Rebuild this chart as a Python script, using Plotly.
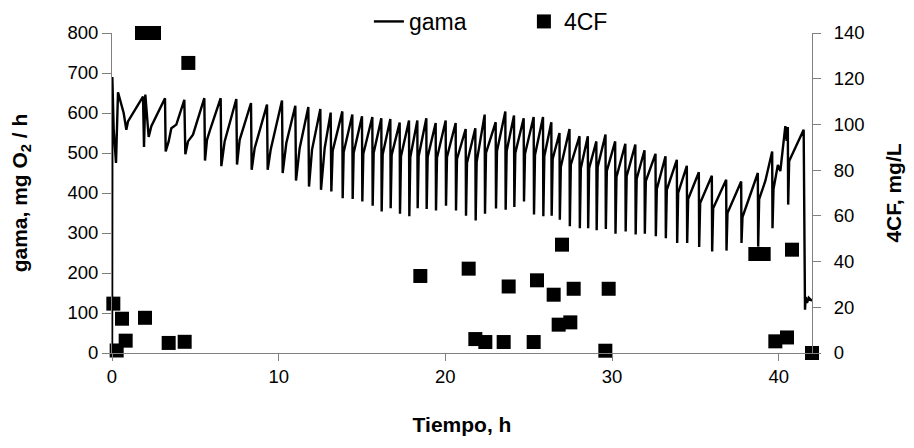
import plotly.graph_objects as go

# gama line (time h, gama mg O2/h)
gama_t = [0.00, 0.02, 0.10, 0.24, 0.36, 0.56, 0.70, 0.86, 0.96, 1.86, 1.92, 2.00, 2.20, 2.36,
          3.18, 3.22, 3.40, 3.56, 3.86, 4.34, 4.40, 4.56, 4.86, 5.54, 5.58, 5.70, 5.90,
          6.52, 6.56, 6.76, 7.46, 7.50, 7.66, 8.34, 8.38, 8.56, 9.30, 9.34, 9.52,
          10.20, 10.24, 10.46, 11.00, 11.04, 11.26, 11.78, 11.82, 12.00, 12.50, 12.54, 12.76,
          13.12, 13.16, 13.24,
          13.82, 13.84, 13.90, 14.42, 14.44, 14.50, 15.00, 15.02, 15.08, 15.62, 15.64, 15.70,
          16.16, 16.18, 16.24, 16.70, 16.72, 16.78, 17.26, 17.28, 17.34, 17.82, 17.84, 17.90,
          18.32, 18.34, 18.40, 18.86, 18.88, 18.94, 19.42, 19.44, 19.50, 20.02, 20.04, 20.10,
          20.62, 20.64, 20.70, 21.22, 21.24, 21.30, 21.80, 21.82, 21.88, 22.36, 22.38, 22.44,
          23.02, 23.04, 23.10, 23.60, 23.62, 23.68, 24.12, 24.14, 24.20, 24.70, 24.72, 24.78,
          25.30, 25.32, 25.38, 25.86, 25.88, 25.94, 26.36, 26.38, 26.44, 26.85, 26.87, 26.93,
          27.45, 27.47, 27.53, 28.05, 28.07, 28.13, 28.55, 28.57, 28.63, 29.06, 29.08, 29.14,
          29.61, 29.63, 29.69, 30.19, 30.21, 30.27, 30.80, 30.82, 30.88, 31.40, 31.42, 31.48,
          31.95, 31.97, 32.03, 32.61, 32.63, 32.69, 33.21, 33.23, 33.29, 33.89, 33.91, 33.97,
          34.49, 34.51, 34.57, 35.21, 35.23, 35.29, 35.99, 36.01, 36.07, 36.85, 36.87, 36.93,
          37.75, 37.77, 37.83, 38.75, 38.77, 38.83, 39.20, 39.61, 39.63, 39.69, 39.95, 40.10,
          40.40, 40.48, 40.55, 40.57, 40.63, 41.50, 41.58, 41.62, 41.70, 41.80, 42.00]
gama_v = [0, 690, 560, 475, 652, 625, 600, 558, 579, 641, 515, 646, 540, 567,
          637, 504, 529, 562, 571, 633, 497, 529, 546, 637, 481, 533, 560,
          637, 467, 529, 635, 471, 533, 625, 458, 512, 621, 458, 508,
          631, 450, 525, 618, 431, 512, 615, 416, 508, 610, 408, 512,
          601, 404, 505,
          604, 387, 502, 596, 385, 500, 592, 379, 498, 590, 368, 500,
          587, 354, 496, 585, 362, 495, 576, 348, 492, 581, 342, 490,
          581, 362, 492, 587, 360, 490, 575, 356, 488, 581, 368, 490,
          575, 356, 485, 560, 343, 475, 562, 331, 478, 596, 348, 500,
          577, 361, 505, 604, 358, 505, 594, 365, 500, 587, 379, 498,
          590, 346, 495, 590, 342, 492, 577, 343, 485, 550, 333, 465,
          560, 317, 471, 542, 312, 462, 542, 312, 462, 529, 307, 465,
          546, 310, 455, 529, 298, 440, 523, 304, 442, 521, 296, 435,
          507, 298, 430, 498, 292, 410, 492, 287, 408, 483, 275, 400,
          468, 275, 385, 452, 265, 375, 443, 254, 362, 433, 256, 350,
          429, 275, 340, 450, 266, 385, 430, 504, 312, 410, 470, 455,
          567, 530, 565, 371, 480, 558, 108, 140, 125, 138, 130]

# 4CF points (time h, mg/L)
cf_t = [0.08, 0.28, 0.60, 0.82, 1.80, 1.98, 2.52, 3.40, 4.36, 4.58,
        18.5, 21.4, 21.8, 22.4, 23.5, 23.8, 25.3, 25.5, 26.5, 26.8, 27.0, 27.5, 27.7,
        29.6, 29.8, 38.6, 39.1, 39.8, 40.5, 40.8, 42.0]
cf_v = [21.6, 1.1, 15.0, 5.4, 140, 15.4, 140, 4.4, 4.9, 126.9,
        33.7, 36.9, 6.1, 4.8, 4.8, 29.1, 4.8, 31.8, 25.5, 12.4, 47.4, 13.4, 28.1,
        1.0, 28.1, 43.3, 43.3, 5.1, 6.8, 45.2, 0]

x_ticks = [0, 10, 20, 30, 40]
y_ticks = [0, 100, 200, 300, 400, 500, 600, 700, 800]
y2_ticks = [0, 20, 40, 60, 80, 100, 120, 140]

FONT = "Liberation Sans, Arial, sans-serif"
AX = "#808080"

fig = go.Figure()
fig.add_trace(go.Scatter(x=gama_t, y=gama_v, mode="lines", name="gama",
                         line=dict(color="black", width=2.4)))
fig.add_trace(go.Scatter(x=cf_t, y=cf_v, mode="markers", name="4CF", yaxis="y2",
                         marker=dict(symbol="square", size=14, color="black"),
                         cliponaxis=False))

fig.update_layout(
    width=898, height=432,
    margin=dict(l=104, r=94, t=25, b=87, autoexpand=False),
    paper_bgcolor="white", plot_bgcolor="white",
    font=dict(family=FONT, size=18.5, color="black"),
    showlegend=True,
    legend=dict(orientation="h", x=0.367, y=1.036, xanchor="left", yanchor="middle",
                font=dict(size=23), entrywidth=110, entrywidthmode="pixels",
                bgcolor="rgba(0,0,0,0)"),
    xaxis=dict(range=[0, 42], tickvals=x_ticks, showgrid=False, zeroline=False,
               showline=True, linecolor=AX, linewidth=1,
               ticks="outside", ticklen=7, tickcolor=AX, automargin=False,
               title=dict(text="<b>Tiempo, h</b>", standoff=31, font=dict(size=21))),
    yaxis=dict(range=[0, 800], tickvals=y_ticks, showgrid=False, zeroline=False,
               showline=True, linecolor=AX, linewidth=1,
               ticks="outside", ticklen=9, tickcolor=AX, automargin=False,
               title=dict(text="<b>gama, mg O<sub>2</sub> / h</b>", standoff=34, font=dict(size=21))),
    yaxis2=dict(range=[0, 140], tickvals=y2_ticks, overlaying="y", side="right",
                showgrid=False, zeroline=False, showline=True, linecolor=AX, linewidth=1,
                ticks="outside", ticklen=8, tickcolor=AX, automargin=False,
                ticklabelstandoff=9,
                title=dict(text="<b>4CF, mg/L</b>", standoff=22, font=dict(size=21))),
)

fig.write_html("out.html")
